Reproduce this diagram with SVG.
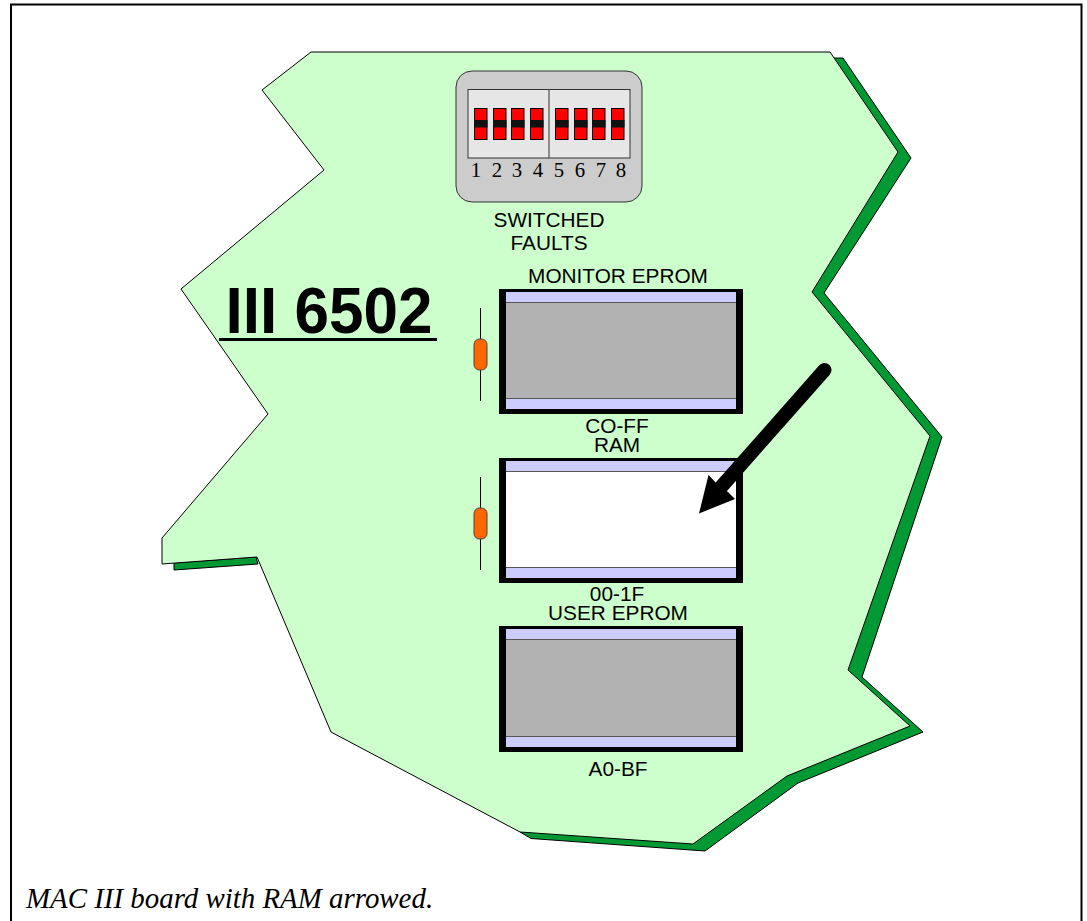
<svg xmlns="http://www.w3.org/2000/svg" width="1087" height="921" viewBox="0 0 1087 921">
<style>
.s{font-family:"Liberation Sans",Arial,sans-serif;font-size:20.800px;fill:#000;text-anchor:middle}
.n{font-family:"Liberation Serif","Times New Roman",serif;font-size:20.800px;fill:#000;text-anchor:middle}
.chip{fill:#000}
.bar{fill:#ccccff}
.edge{fill:#555}
.sw{fill:#ff0000;stroke:#000;stroke-width:1}
.k{fill:#111}
.res{fill:#ff6600;stroke:#444;stroke-width:1}
.lead{stroke:#000;stroke-width:1}
</style>
<rect x="0" y="0" width="1087" height="921" fill="#fff"/>
<path d="M11 921V4.500H1081.500V921" fill="none" stroke="#000" stroke-width="2"/>
<g id="board">
<path d="M520 832L531 838.500L705 851L798 783L923 732L862 677L942 437L824 293L911 158L843 58H830ZM174 563V570L258 564L256 557Z" fill="#009933" stroke="#000" stroke-width="1"/>
<path d="M311 52H830L898 152L812 292L930 436L848 670L910 726L787 776L693 844L520 832L331 732L257 557L162 564V538L268 414L181 289L324 170L262 90Z" fill="#ccffcc" stroke="#000" stroke-width="1"/>
</g>
<g id="switches">
<rect x="456" y="71" width="186" height="131" rx="16" fill="#cccccc" stroke="#333" stroke-width="1"/>
<rect x="468" y="89.500" width="162" height="68.500" fill="#e6e6e6" stroke="#333" stroke-width="1"/>
<line x1="549" y1="90" x2="549" y2="158" stroke="#333" stroke-width="1"/>
<g id="sw-cells">
<rect class="sw" x="474.500" y="108.500" width="12.500" height="31"/><rect class="k" x="474" y="120" width="13.500" height="7.500"/>
<rect class="sw" x="493.500" y="108.500" width="12.500" height="31"/><rect class="k" x="493" y="120" width="13.500" height="7.500"/>
<rect class="sw" x="511.500" y="108.500" width="12.500" height="31"/><rect class="k" x="511" y="120" width="13.500" height="7.500"/>
<rect class="sw" x="530.500" y="108.500" width="12.500" height="31"/><rect class="k" x="530" y="120" width="13.500" height="7.500"/>
<rect class="sw" x="555.500" y="108.500" width="12.500" height="31"/><rect class="k" x="555" y="120" width="13.500" height="7.500"/>
<rect class="sw" x="574.500" y="108.500" width="12.500" height="31"/><rect class="k" x="574" y="120" width="13.500" height="7.500"/>
<rect class="sw" x="592.500" y="108.500" width="12.500" height="31"/><rect class="k" x="592" y="120" width="13.500" height="7.500"/>
<rect class="sw" x="611.500" y="108.500" width="12.500" height="31"/><rect class="k" x="611" y="120" width="13.500" height="7.500"/>
</g>
<text class="n" x="476" y="177">1</text><text class="n" x="497" y="177">2</text><text class="n" x="517" y="177">3</text><text class="n" x="538" y="177">4</text><text class="n" x="559" y="177">5</text><text class="n" x="580" y="177">6</text><text class="n" x="601" y="177">7</text><text class="n" x="621" y="177">8</text>
<text class="s" x="549" y="227">SWITCHED</text>
<text class="s" x="549" y="250">FAULTS</text>
</g>
<g id="title">
<text transform="translate(329 333) scale(1 1.036)" font-family="'Liberation Sans',Arial,sans-serif" font-size="62" font-weight="700" text-anchor="middle">III 6502</text>
<rect x="219" y="338" width="218" height="3"/>
</g>
<g id="chip-monitor">
<rect class="chip" x="499" y="289" width="244" height="125"/>
<rect x="506" y="302" width="230" height="97" fill="#b2b2b2"/>
<rect class="bar" x="506" y="292" width="230" height="10"/>
<rect class="edge" x="506" y="302" width="230" height="1"/>
<rect class="bar" x="506" y="399" width="230" height="10"/>
<rect class="edge" x="506" y="398" width="230" height="1"/>
<text class="s" x="618" y="283">MONITOR EPROM</text>
<text class="s" x="617" y="432.500">CO-FF</text>
</g>
<g id="chip-ram">
<rect class="chip" x="499" y="458" width="244" height="125"/>
<rect x="506" y="471" width="230" height="96" fill="#fff"/>
<rect class="bar" x="506" y="461" width="230" height="10"/>
<rect class="edge" x="506" y="471" width="230" height="1"/>
<rect class="bar" x="506" y="568" width="230" height="10"/>
<rect class="edge" x="506" y="567" width="230" height="1"/>
<text class="s" x="617" y="452">RAM</text>
<text class="s" x="617" y="601">00-1F</text>
</g>
<g id="chip-user">
<rect class="chip" x="499" y="626" width="244" height="126"/>
<rect x="506" y="639" width="230" height="97" fill="#b2b2b2"/>
<rect class="bar" x="506" y="629" width="230" height="10"/>
<rect class="edge" x="506" y="639" width="230" height="1"/>
<rect class="bar" x="506" y="737" width="230" height="10"/>
<rect class="edge" x="506" y="736" width="230" height="1"/>
<text class="s" x="618" y="620">USER EPROM</text>
<text class="s" x="618" y="776">A0-BF</text>
</g>
<g id="resistor-1">
<line class="lead" x1="480.500" y1="308" x2="480.500" y2="401"/>
<rect class="res" x="474" y="339" width="13" height="31" rx="5.500"/>
</g>
<g id="resistor-2">
<line class="lead" x1="480.500" y1="477" x2="480.500" y2="570"/>
<rect class="res" x="474" y="508" width="13" height="31" rx="5.500"/>
</g>
<g id="connectors">
<path d="M824.500 370L722 486" stroke="#000" stroke-width="14" stroke-linecap="round" fill="none"/>
<path d="M699 513.500L708.500 475L720 487L728 492L735 499Z" fill="#000"/>
</g>
<text x="26" y="907.500" font-family="'Liberation Serif','Times New Roman',serif" font-size="28.900" font-style="italic">MAC III board with RAM arrowed.</text>
</svg>
